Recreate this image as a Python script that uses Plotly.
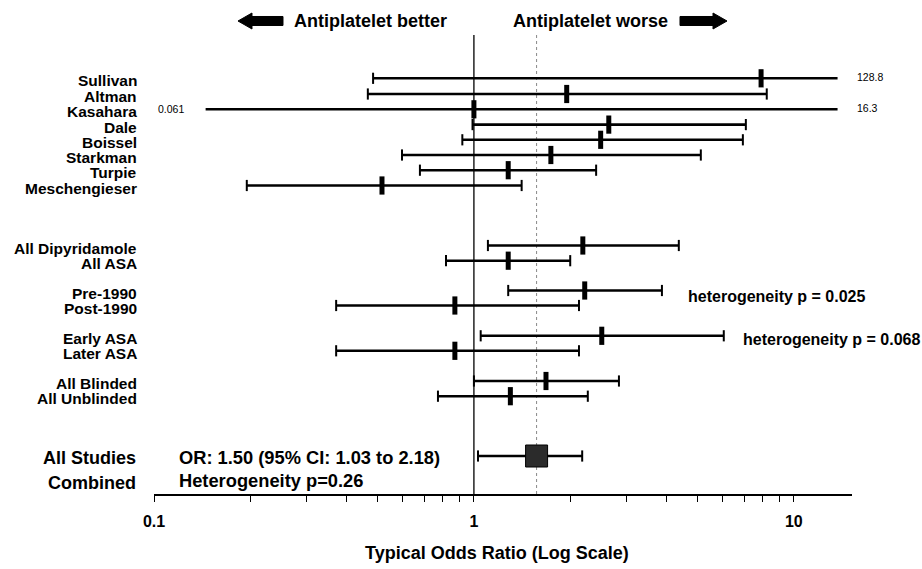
import plotly.graph_objects as go
import math

# ---------------- data ----------------
row_labels = ["Sullivan", "Altman", "Kasahara", "Dale", "Boissel", "Starkman", "Turpie", "Meschengieser",
              "All Dipyridamole", "All ASA", "Pre-1990", "Post-1990", "Early ASA", "Later ASA",
              "All Blinded", "All Unblinded"]
or_point = [7.9, 1.95, 1.0, 2.64, 2.49, 1.74, 1.28, 0.516,
            2.19, 1.28, 2.22, 0.872, 2.51, 0.872, 1.68, 1.30]
ci_low = [0.484, 0.466, 0.061, 0.99, 0.92, 0.596, 0.678, 0.195,
          1.106, 0.818, 1.28, 0.371, 1.05, 0.371, 1.0, 0.772]
ci_high = [128.8, 8.23, 16.3, 7.08, 6.93, 5.12, 2.41, 1.41,
           4.37, 2.0, 3.87, 2.13, 6.04, 2.13, 2.84, 2.27]

combined_or = 1.57
combined_low = 1.03
combined_high = 2.18

heterogeneity_notes = ["heterogeneity p = 0.025", "heterogeneity p = 0.068"]
summary_lines = ["OR: 1.50 (95% CI: 1.03 to 2.18)", "Heterogeneity p=0.26"]
tick_values = [0.1, 1, 10]
tick_labels = ["0.1", "1", "10"]

# ---------------- layout constants ----------------
W, H = 922, 569
PL, PR, PT, PB = 154, 852, 35, 494          # plot area in pixels
row_y = [78.3, 94.0, 109.3, 124.6, 139.8, 155.0, 170.2, 185.5,
         245.5, 260.7, 290.5, 305.5, 335.8, 350.8, 381.0, 396.2]
combined_y = 456
CLIP_LO, CLIP_HI = 0.145, 13.7
FONT = "Liberation Sans, Arial, sans-serif"


def px(x):
    return (x - PL) / (PR - PL)


def py(y):
    return (PB - y) / (PB - PT)


fig = go.Figure()

# CI lines
lx, ly = [], []
cap_x, cap_y = [], []
for lo, hi, y in zip(ci_low, ci_high, row_y):
    lo_d = max(lo, CLIP_LO)
    hi_d = min(hi, CLIP_HI)
    lx += [lo_d, hi_d, None]
    ly += [y, y, None]
    if lo >= CLIP_LO:
        cap_x.append(lo); cap_y.append(y)
    if hi <= CLIP_HI:
        cap_x.append(hi); cap_y.append(y)
lx += [combined_low, combined_high, None]
ly += [combined_y, combined_y, None]
cap_x += [combined_low, combined_high]
cap_y += [combined_y, combined_y]

fig.add_trace(go.Scatter(x=lx, y=ly, mode="lines", line=dict(color="black", width=2.6),
                         hoverinfo="skip", showlegend=False))
fig.add_trace(go.Scatter(x=cap_x, y=cap_y, mode="markers",
                         marker=dict(symbol="line-ns-open", size=8, color="black",
                                     line=dict(color="black", width=2)),
                         hoverinfo="skip", showlegend=False))
fig.add_trace(go.Scatter(x=or_point, y=row_y, mode="markers",
                         marker=dict(symbol="line-ns-open", size=13, color="black",
                                     line=dict(color="black", width=5)),
                         showlegend=False))
fig.add_trace(go.Scatter(x=[combined_or], y=[combined_y], mode="markers",
                         marker=dict(symbol="square", size=22, color="#2b2b2b",
                                     line=dict(color="black", width=1)),
                         showlegend=False))

# reference lines
fig.add_shape(type="line", xref="x", yref="paper", x0=1, x1=1, y0=0, y1=1,
              line=dict(color="black", width=1.3), layer="below")
fig.add_shape(type="line", xref="x", yref="paper", x0=combined_or, x1=combined_or, y0=0, y1=1,
              line=dict(color="#888888", width=1, dash="dot"), layer="below")

# arrows
def arrow_path(tail, tip, yc, head_len=14, head_h=8, body_h=4.5):
    d = 1 if tip > tail else -1
    hb = tip - d * head_len
    pts = [(tail, yc - body_h), (hb, yc - body_h), (hb, yc - head_h), (tip, yc),
           (hb, yc + head_h), (hb, yc + body_h), (tail, yc + body_h)]
    return "M " + " L ".join(f"{px(a):.5f},{py(b):.5f}" for a, b in pts) + " Z"

fig.add_shape(type="path", xref="paper", yref="paper", path=arrow_path(283, 238, 21),
              fillcolor="black", line=dict(color="black", width=1))
fig.add_shape(type="path", xref="paper", yref="paper", path=arrow_path(680, 727, 21),
              fillcolor="black", line=dict(color="black", width=1))

ann = []
def text(t, x, y, size, anchor="left", bold=True, yref="paper"):
    ann.append(dict(text=t, x=px(x), y=py(y) if yref == "paper" else y, xref="paper", yref=yref,
                    xanchor=anchor, yanchor="middle", showarrow=False,
                    font=dict(family=FONT, size=size, color="black", weight="bold" if bold else "normal")))

text("Antiplatelet better", 292, 21, 18)
text("Antiplatelet worse", 511, 21, 18)

for lab, y in zip(row_labels, row_y):
    text(lab, 139, y + 2.5, 15.5, anchor="right")

text("All Studies", 138, 458, 18, anchor="right")
text("Combined", 138, 483, 18, anchor="right")
text(summary_lines[0], 177, 457, 18.3)
text(summary_lines[1], 177, 480, 18.3)
text(heterogeneity_notes[0], 686, 296, 16)
text(heterogeneity_notes[1], 741, 339, 16)

# clipped CI values
for lo, hi, y in zip(ci_low, ci_high, row_y):
    if hi > CLIP_HI:
        text(f"{hi:g}", 855, y - 1, 10.5, bold=False)
    if lo < CLIP_LO:
        text(f"{lo:g}", 156, y, 10.5, bold=False)

text("Typical Odds Ratio (Log Scale)", 497, 553, 18, anchor="center")

minor = [v * m for v in (0.1, 1) for m in range(2, 10)] + [10]
all_ticks = sorted(set(minor + tick_values))
all_text = [tick_labels[tick_values.index(v)] if v in tick_values else "" for v in all_ticks]

fig.update_layout(
    width=W, height=H,
    margin=dict(l=PL, r=W - PR, t=PT, b=H - PB),
    paper_bgcolor="white", plot_bgcolor="white",
    showlegend=False,
    annotations=ann,
    xaxis=dict(type="log", range=[-1, math.log10(15.2)], showgrid=False, zeroline=False,
               showline=True, linecolor="black", linewidth=2,
               ticks="outside", ticklen=6, tickwidth=1, tickcolor="black",
               tickvals=all_ticks, ticktext=all_text, ticklabelstandoff=6,
               tickfont=dict(family=FONT, size=16, color="black", weight="bold")),
    yaxis=dict(range=[PB, PT], visible=False, showgrid=False, zeroline=False),
)

fig.write_html("out.html")
